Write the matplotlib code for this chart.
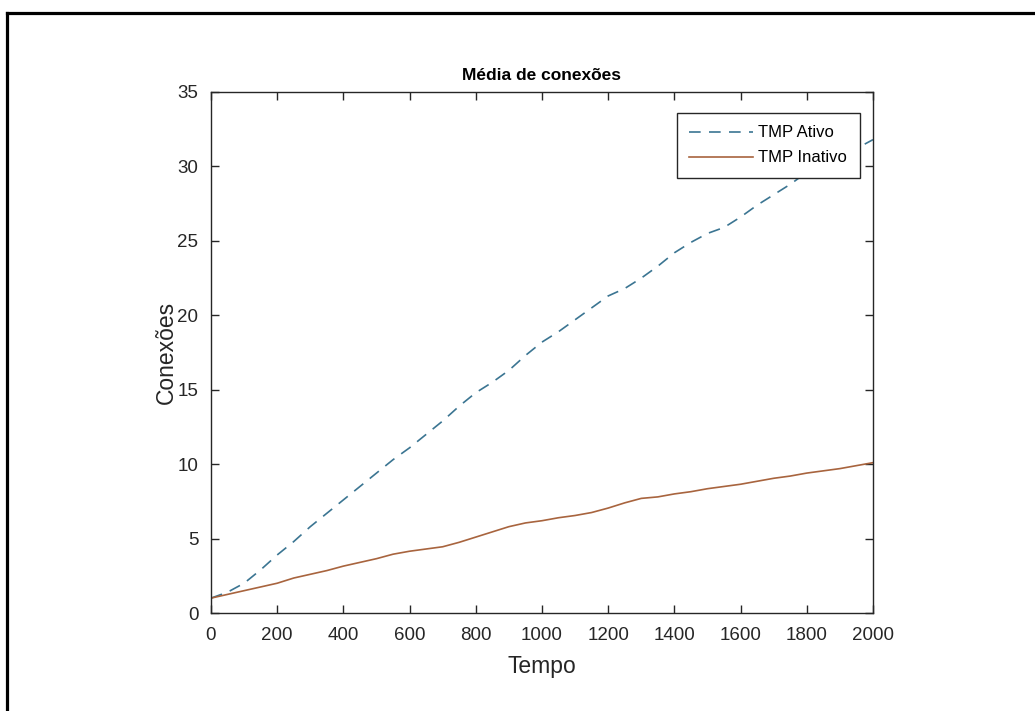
import matplotlib.pyplot as plt
from matplotlib.lines import Line2D

plt.rcParams['font.family'] = ['Liberation Sans', 'DejaVu Sans']

# Tempo (x) and mean connections
tempo = [0, 50, 100, 150, 200, 250, 300, 350, 400, 450, 500, 550, 600, 650, 700,
         750, 800, 850, 900, 950, 1000, 1050, 1100, 1150, 1200, 1250, 1300, 1350,
         1400, 1450, 1500, 1550, 1600, 1650, 1700, 1750, 1800, 1850, 1900, 1950, 2000]
tmp_ativo = [1.0, 1.4, 2.0, 2.9, 3.9, 4.8, 5.8, 6.7, 7.6, 8.5, 9.4, 10.3, 11.1, 12.0, 12.9,
             13.9, 14.8, 15.5, 16.3, 17.3, 18.2, 18.9, 19.7, 20.5, 21.3, 21.8, 22.5, 23.3,
             24.2, 24.9, 25.5, 25.9, 26.6, 27.4, 28.1, 28.8, 29.6, 30.1, 30.6, 31.2, 31.8]
tmp_inativo = [1.0, 1.25, 1.5, 1.75, 2.0, 2.35, 2.6, 2.85, 3.15, 3.4, 3.65, 3.95, 4.15, 4.3, 4.45,
               4.75, 5.1, 5.45, 5.8, 6.05, 6.2, 6.4, 6.55, 6.75, 7.05, 7.4, 7.7, 7.8,
               8.0, 8.15, 8.35, 8.5, 8.65, 8.85, 9.05, 9.2, 9.4, 9.55, 9.7, 9.9, 10.1]

fig = plt.figure(figsize=(10.35, 7.11), dpi=100)
ax = fig.add_axes([211 / 1035, 1 - 613 / 711, 662 / 1035, 521 / 711])

ax.plot(tempo, tmp_ativo, linestyle=(0, (7, 5)), color='#3b7592', linewidth=1.2, label='TMP Ativo')
ax.plot(tempo, tmp_inativo, color='#a8643e', linewidth=1.2, label='TMP Inativo')

ax.set_xlim(0, 2000)
ax.set_ylim(0, 35)
ax.set_xticks(range(0, 2001, 200))
ax.set_yticks(range(0, 36, 5))

axis_col = '#262626'
for s in ax.spines.values():
    s.set_color(axis_col)
    s.set_linewidth(1.0)
ax.tick_params(direction='in', top=True, right=True, length=6, width=1.0,
               colors=axis_col, labelsize=13.5)
ax.tick_params(axis='x', pad=10)
ax.tick_params(axis='y', pad=9)

ax.set_title('Média de conexões', fontsize=12.5, fontweight='bold', pad=9)
ax.set_xlabel('Tempo', fontsize=16.5, color=axis_col, labelpad=8)
ax.set_ylabel('Conexões', fontsize=16.5, color=axis_col, labelpad=0)

leg = ax.legend(loc='upper right', bbox_to_anchor=(0.980, 0.960), borderaxespad=0,
                fontsize=12, fancybox=False, framealpha=1, edgecolor=axis_col,
                handlelength=3.8, borderpad=0.75, labelspacing=0.6, handletextpad=0.35)
leg.get_frame().set_linewidth(1.0)

# outer frame of the screenshot (left and top edges)
x0 = 7 / 1035
y0 = 1 - 13 / 711
fig.add_artist(Line2D([x0, x0], [0, y0], transform=fig.transFigure, color='black', linewidth=2.3))
fig.add_artist(Line2D([x0, 1], [y0, y0], transform=fig.transFigure, color='black', linewidth=2.3))

fig.savefig('out.png', dpi=100)
